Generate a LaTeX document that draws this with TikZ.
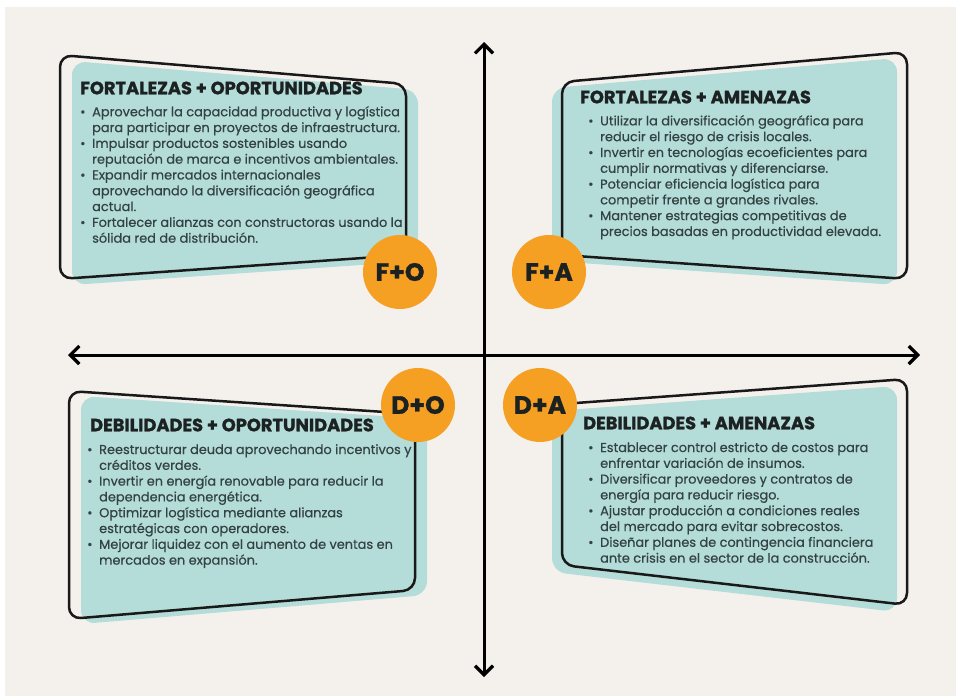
\documentclass[tikz,border=0pt]{standalone}
\usepackage{fontspec}
\setmainfont{Poppins}
\newfontfamily\bodyfont{Poppins}[FakeBold=0.5]
\newfontfamily\heavyfont{Poppins}[BoldFeatures={FakeBold=1.2}]
\usetikzlibrary{arrows.meta}
\definecolor{bgc}{HTML}{F4F1ED}
\definecolor{tealc}{HTML}{B4DCD9}
\definecolor{orng}{HTML}{F6A023}
\definecolor{ttl}{HTML}{1C2222}
\definecolor{bodyc}{HTML}{334242}
\newcommand{\bul}{\makebox[12pt][l]{\textbullet}}
\newcommand{\ind}{\hspace*{12pt}}
\tikzset{
  outline/.style={draw=black!90, line width=2.5pt, rounded corners=12pt},
  tealfill/.style={fill=tealc, rounded corners=14pt},
  badge/.style={circle, fill=orng, minimum size=74pt, inner sep=0pt,
    font=\heavyfont\fontsize{25}{25}\selectfont\bfseries, text=ttl},
  qtitle/.style={anchor=west, inner sep=0pt,
    font=\heavyfont\fontsize{17.8}{18}\selectfont\bfseries, text=ttl},
  bodytext/.style={anchor=north west, inner sep=0pt, align=left,
    font=\bodyfont\fontsize{12.9}{15.8}\selectfont, text=bodyc},
  axis/.style={line width=3pt, draw=black,
    {Straight Barb[length=9pt,width=18pt,line width=3.2pt]}-{Straight Barb[length=9pt,width=18pt,line width=3.2pt]}}
}
\begin{document}
\begin{tikzpicture}[x=1pt,y=-1pt]
\useasboundingbox (0,0) rectangle (956,696);
\fill[white] (0,0) rectangle (956,696);
\fill[bgc] (5,7) rectangle (956,696);

% teal fills
\fill[tealfill] (72,61) -- (418,90) -- (418,261) -- (72,285) -- cycle;
\fill[tealfill] (552,88) -- (897,58) -- (897,285) -- (552,261) -- cycle;
\fill[tealfill] (81,396) -- (427,419) -- (427,595) -- (81,624) -- cycle;
\fill[tealfill] (552,411) -- (897,386) -- (897,612) -- (552,572) -- cycle;

% black outlines
\draw[outline] (60,55) -- (406,84) -- (406,255) -- (60,279) -- cycle;
\draw[outline] (562,82) -- (907,52) -- (907,279) -- (562,255) -- cycle;
\draw[outline] (69,391) -- (415,414) -- (415,590) -- (69,619) -- cycle;
\draw[outline] (562,404) -- (907,379) -- (907,605) -- (562,565) -- cycle;

% axes
\coordinate (vt) at (484,42);
\coordinate (vb) at (484,677);
\coordinate (hl) at (68,355);
\coordinate (hr) at (920,355);
\draw[axis] (vb) -- (vt);
\draw[axis] (hl) -- (hr);

% badges
\node[badge] (fo) at (400,272) {F+O};
\node[badge] (fa) at (549,272) {F+A};
\node[badge] (do) at (418,405) {D+O};
\node[badge] (da) at (540,405) {D+A};

% titles
\node[qtitle] (tfo) at (80,88) {FORTALEZAS + OPORTUNIDADES};
\node[qtitle] (tfa) at (580,97) {FORTALEZAS + AMENAZAS};
\node[qtitle] (tdo) at (90,425) {DEBILIDADES + OPORTUNIDADES};
\node[qtitle] (tda) at (583,423) {DEBILIDADES + AMENAZAS};

% bodies
\node[bodytext] (bfo) at (80,106) {%
\bul Aprovechar la capacidad productiva y logística\\
\ind para participar en proyectos de infraestructura.\\
\bul Impulsar productos sostenibles usando\\
\ind reputación de marca e incentivos ambientales.\\
\bul Expandir mercados internacionales\\
\ind aprovechando la diversificación geográfica\\
\ind actual.\\
\bul Fortalecer alianzas con constructoras usando la\\
\ind sólida red de distribución.};

\node[bodytext] (bfa) at (588,115) {%
\bul Utilizar la diversificación geográfica para\\
\ind reducir el riesgo de crisis locales.\\
\bul Invertir en tecnologías ecoeficientes para\\
\ind cumplir normativas y diferenciarse.\\
\bul Potenciar eficiencia logística para\\
\ind competir frente a grandes rivales.\\
\bul Mantener estrategias competitivas de\\
\ind precios basadas en productividad elevada.};

\node[bodytext] (bdo) at (87,444) {%
\bul Reestructurar deuda aprovechando incentivos y\\
\ind créditos verdes.\\
\bul Invertir en energía renovable para reducir la\\
\ind dependencia energética.\\
\bul Optimizar logística mediante alianzas\\
\ind estratégicas con operadores.\\
\bul Mejorar liquidez con el aumento de ventas en\\
\ind mercados en expansión.};

\node[bodytext] (bda) at (588,442) {%
\bul Establecer control estricto de costos para\\
\ind enfrentar variación de insumos.\\
\bul Diversificar proveedores y contratos de\\
\ind energía para reducir riesgo.\\
\bul Ajustar producción a condiciones reales\\
\ind del mercado para evitar sobrecostos.\\
\bul Diseñar planes de contingencia financiera\\
\ind ante crisis en el sector de la construcción.};
\end{tikzpicture}
\end{document}
